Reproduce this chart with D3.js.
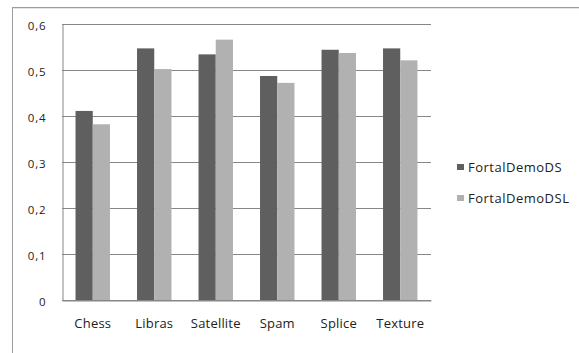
<!DOCTYPE html>
<html>
<head>
<meta charset="utf-8">
<script src="https://cdn.jsdelivr.net/npm/d3@7"></script>
<style>
  html, body { margin: 0; padding: 0; background: #fff; }
  svg { display: block; }
  text { font-family: "Open Sans", "Noto Sans", sans-serif; fill: #222; }
</style>
</head>
<body>
<svg id="chart" width="579" height="353"></svg>
<script>
// Datasets on the x axis
const categories = ["Chess", "Libras", "Satellite", "Spam", "Splice", "Texture"];
// Series names shown in the legend
const seriesNames = ["FortalDemoDS", "FortalDemoDSL"];
// Values per series, in category order
const dsValues  = [0.411, 0.547, 0.534, 0.487, 0.544, 0.547];
const dslValues = [0.382, 0.502, 0.566, 0.472, 0.537, 0.521];
// Y axis ticks and their labels (decimal comma)
const yTicks = [0, 0.1, 0.2, 0.3, 0.4, 0.5, 0.6];
const yTickLabels = ["0", "0,1", "0,2", "0,3", "0,4", "0,5", "0,6"];

const seriesColors = ["#5f5f5f", "#b1b1b1"];
const seriesValues = [dsValues, dslValues];

const svg = d3.select("#chart");

// Chart frame (only top and left edges fall inside the view)
svg.append("rect")
  .attr("x", 12.5).attr("y", 7.5)
  .attr("width", 600).attr("height", 400)
  .attr("fill", "#fff")
  .attr("stroke", "#9c9c9c").attr("stroke-width", 1);
svg.append("line")
  .attr("x1", 13).attr("x2", 600).attr("y1", 8.5).attr("y2", 8.5)
  .attr("stroke", "#e4e4e4");

const plot = { left: 62, right: 431, top: 24, bottom: 300 };

const x = d3.scaleBand()
  .domain(categories)
  .range([plot.left, plot.right])
  .paddingInner(0.44)
  .paddingOuter(0.22);

const xs = d3.scaleBand()
  .domain(seriesNames)
  .range([0, x.bandwidth()]);

const y = d3.scaleLinear()
  .domain([0, 0.6])
  .range([plot.bottom, plot.top]);

// Horizontal gridlines
svg.append("g")
  .selectAll("line")
  .data(yTicks)
  .join("line")
  .attr("x1", plot.left).attr("x2", plot.right)
  .attr("y1", d => Math.round(y(d)) + 0.5)
  .attr("y2", d => Math.round(y(d)) + 0.5)
  .attr("stroke", "#878787").attr("stroke-width", 1);

// Bars
const rows = categories.map((c, i) => ({ cat: c, vals: seriesValues.map(s => s[i]) }));
svg.append("g")
  .selectAll("g")
  .data(rows)
  .join("g")
  .attr("transform", d => `translate(${x(d.cat)},0)`)
  .selectAll("rect")
  .data(d => d.vals.map((v, j) => ({ name: seriesNames[j], v, j })))
  .join("rect")
  .attr("x", d => xs(d.name))
  .attr("width", xs.bandwidth())
  .attr("y", d => y(d.v))
  .attr("height", d => y(0) - y(d.v))
  .attr("fill", d => seriesColors[d.j]);

// Y axis
const yAxis = d3.axisLeft(y)
  .tickValues(yTicks)
  .tickSize(0)
  .tickPadding(16)
  .tickFormat((d, i) => yTickLabels[i]);
const gy = svg.append("g")
  .attr("transform", `translate(${plot.left + 0.5},0)`)
  .call(yAxis);
gy.select(".domain").attr("stroke", "#878787");
gy.selectAll("text")
  .attr("font-size", 11.5)
  .attr("fill", "#222")
  .attr("dy", "0.45em")
  .style("letter-spacing", "0.9px")
  .style("font-family", "Open Sans");

// X axis
const xAxis = d3.axisBottom(x).tickSize(0).tickPadding(18);
const gx = svg.append("g")
  .attr("transform", `translate(0,${plot.bottom + 0.5})`)
  .call(xAxis);
gx.select(".domain").attr("stroke", "#878787");
gx.selectAll("text")
  .attr("font-size", 13)
  .attr("fill", "#222")
  .style("letter-spacing", "0.2px")
  .style("font-family", "Open Sans");

// Legend
const legend = svg.append("g")
  .attr("transform", "translate(457,167)");
const items = legend.selectAll("g")
  .data(seriesNames)
  .join("g")
  .attr("transform", (d, i) => `translate(0,${i * 31})`);
items.append("rect")
  .attr("x", 0).attr("y", -3)
  .attr("width", 7).attr("height", 6)
  .attr("fill", (d, i) => seriesColors[i]);
items.append("text")
  .attr("x", 11).attr("y", 0)
  .attr("dy", "0.36em")
  .attr("font-size", 13)
  .style("letter-spacing", "0.5px")
  .text(d => d);
</script>
</body>
</html>
